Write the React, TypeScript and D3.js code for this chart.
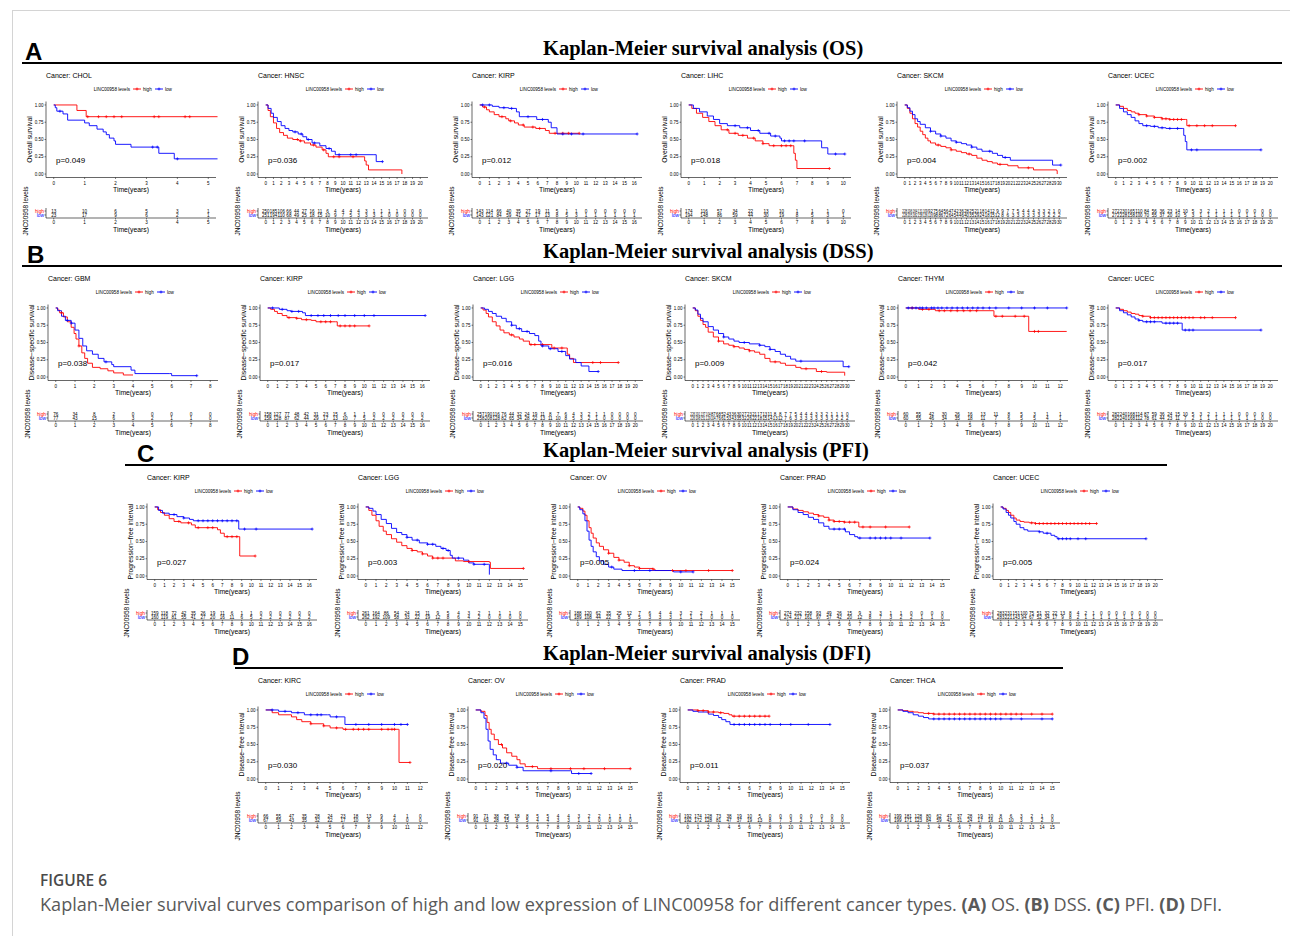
import * as d3 from 'd3';

type Pt = [number, number];

const RED = '#ff0000';
const BLUE = '#0000ff';
const SANS = 'Liberation Sans, Arial, sans-serif';

// ---------- A: OS ----------
const osCHOLhigh: Pt[] = [[0, 1], [0.75, 0.92], [1.05, 0.83], [5.3, 0.83]];
const osCHOLhighCens = [1.1, 1.45, 1.7, 1.95, 2.2, 3.25, 3.4, 4.25, 4.4];
const osCHOLlow: Pt[] = [[0, 1], [0.05, 0.96], [0.1, 0.91], [0.3, 0.87], [0.45, 0.78], [1.0, 0.74], [1.15, 0.7], [1.4, 0.65], [1.6, 0.61], [1.7, 0.57], [1.8, 0.52], [1.95, 0.48], [2.0, 0.43], [2.5, 0.39], [3.4, 0.3], [3.9, 0.22], [5.3, 0.22]];
const osCHOLlowCens = [0.2, 3.2, 3.35, 4.0];
const osCHOLriskHigh = [13, 10, 6, 5, 3, 1];
const osCHOLriskLow = [23, 17, 9, 6, 2, 1];

const osHNSChigh: Pt[] = [[0, 1], [0.3, 0.92], [0.6, 0.83], [1, 0.74], [1.4, 0.66], [1.8, 0.6], [2.3, 0.56], [2.8, 0.52], [3.5, 0.5], [4.3, 0.48], [5, 0.45], [5.8, 0.42], [6.5, 0.39], [7.3, 0.35], [7.8, 0.3], [8.1, 0.25], [12.6, 0.25], [12.8, 0.19], [13, 0.13], [13.3, 0.06], [17.6, 0.06], [17.62, 0]];
const osHNSChighCens = [4.1, 4.5, 6.2, 7.5, 8.8, 9.5, 11.3];
const osHNSClow: Pt[] = [[0, 1], [0.3, 0.95], [0.7, 0.88], [1, 0.82], [1.5, 0.76], [2, 0.7], [2.5, 0.66], [3, 0.63], [3.5, 0.61], [4.2, 0.58], [4.8, 0.54], [5.3, 0.5], [6, 0.45], [7, 0.41], [7.8, 0.37], [8.5, 0.33], [9, 0.28], [14, 0.28], [14.3, 0.18], [15.1, 0.18]];
const osHNSClowCens = [3.8, 4.6, 5.5, 6.3, 8.2, 9.5, 11, 11.7, 15.1];
const osHNSCriskHigh = [250, 185, 106, 66, 44, 27, 16, 11, 6, 4, 4, 4, 4, 3, 1, 1, 1, 1, 0, 0, 0];
const osHNSCriskLow = [251, 194, 110, 68, 49, 25, 18, 15, 10, 9, 7, 5, 3, 3, 3, 1, 0, 0, 0, 0, 0];

const osKIRPhigh: Pt[] = [[0, 1], [0.3, 0.97], [0.7, 0.93], [1, 0.9], [1.5, 0.86], [2, 0.83], [2.7, 0.8], [3, 0.77], [3.6, 0.74], [4, 0.71], [4.6, 0.68], [5.8, 0.66], [6.8, 0.63], [7.2, 0.59], [10.3, 0.59]];
const osKIRPhighCens = [0.5, 2.3, 3.2, 4.5, 5.5, 6.2, 7.8, 8.6, 9.2, 10.3];
const osKIRPlow: Pt[] = [[0, 1], [1.3, 0.98], [2, 0.96], [3, 0.95], [3.8, 0.9], [4.1, 0.83], [5.9, 0.79], [7.1, 0.75], [7.4, 0.67], [8, 0.58], [16.3, 0.58]];
const osKIRPlowCens = [0.3, 1, 2.5, 3.3, 5, 6.5, 8.6, 9.5, 10.7, 16.3];
const osKIRPriskHigh = [143, 114, 66, 40, 35, 27, 19, 11, 5, 1, 1, 0, 0, 0, 0, 0, 0];
const osKIRPriskLow = [143, 121, 84, 59, 41, 27, 17, 13, 8, 5, 3, 1, 1, 1, 1, 1, 1];

const osLIHChigh: Pt[] = [[0, 1], [0.2, 0.95], [0.5, 0.88], [0.9, 0.82], [1.3, 0.76], [1.7, 0.7], [2.1, 0.64], [2.6, 0.59], [3.2, 0.56], [3.8, 0.52], [4.3, 0.48], [4.8, 0.44], [5.2, 0.41], [6.7, 0.41], [6.8, 0.3], [6.9, 0.2], [7.0, 0.08], [9.1, 0.08]];
const osLIHChighCens = [2.5, 3, 3.5, 4.2, 4.8, 5.5, 6, 6.3, 6.6, 9.1];
const osLIHClow: Pt[] = [[0, 1], [0.3, 0.95], [0.7, 0.9], [1.2, 0.84], [1.6, 0.79], [2, 0.73], [2.5, 0.7], [3.3, 0.67], [4, 0.63], [4.6, 0.59], [5.3, 0.55], [5.9, 0.52], [6.0, 0.48], [8.5, 0.48], [8.6, 0.38], [9.0, 0.29], [10.1, 0.29]];
const osLIHClowCens = [3, 3.8, 4.5, 5.2, 5.6, 6.2, 6.5, 6.8, 7.5, 9.5, 10.1];
const osLIHCriskHigh = [174, 116, 57, 34, 22, 13, 10, 1, 1, 1, 0];
const osLIHCriskLow = [194, 148, 86, 59, 44, 30, 19, 8, 5, 3, 1];

const osSKCMhigh: Pt[] = [[0, 1], [0.5, 0.95], [1, 0.88], [1.5, 0.8], [2, 0.73], [2.5, 0.68], [3, 0.62], [3.5, 0.57], [4, 0.52], [4.5, 0.48], [5, 0.45], [6, 0.42], [7, 0.4], [8, 0.38], [9, 0.35], [10, 0.33], [11, 0.31], [12, 0.29], [13, 0.27], [14, 0.23], [15, 0.2], [16, 0.18], [17, 0.16], [18, 0.14], [20, 0.12], [22, 0.09], [25, 0.06], [29.5, 0.05], [29.6, 0]];
const osSKCMhighCens = [6.5, 9, 12.5, 18.5, 24];
const osSKCMlow: Pt[] = [[0, 1], [0.5, 0.96], [1, 0.91], [1.5, 0.86], [2, 0.8], [2.5, 0.76], [3, 0.72], [4, 0.67], [5, 0.62], [6, 0.58], [7, 0.55], [8, 0.52], [9, 0.48], [10, 0.46], [11, 0.44], [12, 0.42], [13, 0.39], [14, 0.36], [15, 0.33], [17, 0.3], [18, 0.27], [19, 0.24], [20.5, 0.2], [28.5, 0.2], [28.7, 0.13], [30.3, 0.13]];
const osSKCMlowCens = [5, 7, 10, 13, 16.5, 19.5, 30.3];
const osSKCMriskHigh = [228, 196, 164, 131, 109, 92, 75, 64, 56, 47, 42, 36, 28, 25, 21, 18, 14, 12, 9, 9, 7, 7, 5, 4, 4, 4, 3, 3, 2, 1, 0];
const osSKCMriskLow = [228, 205, 182, 158, 136, 116, 98, 86, 72, 64, 54, 46, 40, 35, 29, 24, 18, 15, 12, 8, 6, 3, 3, 3, 3, 3, 3, 3, 2, 2, 2];

const osUCEChigh: Pt[] = [[0, 1], [0.5, 0.98], [1, 0.95], [1.5, 0.92], [2, 0.9], [2.5, 0.88], [3, 0.86], [4, 0.84], [5, 0.82], [6, 0.8], [7, 0.79], [9, 0.79], [9.2, 0.7], [15.5, 0.7]];
const osUCEChighCens = [3, 4, 5, 6, 6.5, 7, 7.5, 8, 8.5, 9.5, 10.5, 11.5, 12.5, 15.5];
const osUCEClow: Pt[] = [[0, 1], [0.5, 0.95], [1, 0.9], [1.5, 0.86], [2, 0.82], [2.5, 0.77], [3, 0.73], [3.5, 0.7], [4.5, 0.69], [5.5, 0.67], [6.5, 0.66], [8.6, 0.66], [8.8, 0.56], [9, 0.47], [9.2, 0.35], [18.8, 0.35]];
const osUCEClowCens = [4, 5, 6, 7, 8, 9.8, 10.5, 18.8];
const osUCECriskHigh = [272, 230, 165, 110, 84, 56, 36, 23, 14, 10, 5, 3, 2, 1, 1, 1, 0, 0, 0, 0, 0];
const osUCECriskLow = [272, 228, 158, 100, 70, 55, 37, 20, 10, 5, 3, 1, 1, 1, 1, 1, 1, 1, 1, 0, 0];

// ---------- B: DSS ----------
const dssGBMhigh: Pt[] = [[0, 1], [0.1, 0.97], [0.2, 0.93], [0.4, 0.87], [0.6, 0.8], [0.8, 0.72], [0.95, 0.63], [1.05, 0.55], [1.2, 0.45], [1.35, 0.35], [1.5, 0.27], [1.65, 0.2], [1.9, 0.14], [2.3, 0.12], [2.7, 0.09], [3.0, 0.06], [3.5, 0.03], [4, 0.03]];
const dssGBMhighCens = [0.3, 1.2];
const dssGBMlow: Pt[] = [[0, 1], [0.1, 0.96], [0.3, 0.88], [0.5, 0.82], [0.8, 0.78], [1.0, 0.68], [1.2, 0.56], [1.4, 0.45], [1.6, 0.38], [1.9, 0.33], [2.2, 0.27], [2.5, 0.22], [2.9, 0.18], [3.0, 0.15], [3.9, 0.1], [4.1, 0.05], [5.9, 0.05], [6.0, 0.02], [7.3, 0.02]];
const dssGBMlowCens = [0.6, 0.8, 2.6, 7.3];
const dssGBMriskHigh = [76, 34, 8, 2, 0, 0, 0, 0, 0];
const dssGBMriskLow = [77, 43, 15, 6, 3, 2, 1, 1, 0];

const dssKIRPhigh: Pt[] = [[0, 1], [0.3, 0.98], [0.7, 0.95], [1, 0.92], [1.5, 0.89], [2, 0.86], [3, 0.85], [3.5, 0.83], [4.5, 0.82], [5, 0.8], [7, 0.8], [7.2, 0.74], [10.5, 0.74]];
const dssKIRPhighCens = [2.2, 3, 4, 5.5, 6, 6.5, 7.5, 8, 8.5, 9, 10.5];
const dssKIRPlow: Pt[] = [[0, 1], [1.2, 0.98], [2, 0.96], [2.4, 0.95], [3.6, 0.93], [3.9, 0.89], [16.3, 0.89]];
const dssKIRPlowCens = [0.5, 1.5, 2.5, 3.2, 4.5, 5.2, 5.8, 6.5, 7.3, 8, 9, 10, 11, 16.3];
const dssKIRPriskHigh = [158, 127, 77, 48, 42, 31, 23, 15, 6, 1, 1, 0, 0, 0, 0, 0, 0];
const dssKIRPriskLow = [158, 128, 87, 62, 44, 29, 17, 13, 10, 7, 5, 2, 2, 2, 2, 2, 2];

const dssLGGhigh: Pt[] = [[0, 1], [0.3, 0.97], [0.7, 0.92], [1, 0.87], [1.5, 0.8], [2, 0.74], [2.5, 0.68], [3, 0.64], [3.7, 0.61], [4.3, 0.58], [5, 0.55], [5.5, 0.52], [6.3, 0.47], [9, 0.47], [9.2, 0.42], [11, 0.42], [11.2, 0.33], [11.5, 0.27], [12, 0.21], [17.8, 0.21]];
const dssLGGhighCens = [4, 6.5, 7, 8, 9.5, 10.5, 14.5, 15.5, 17.8];
const dssLGGlow: Pt[] = [[0, 1], [0.5, 0.98], [1, 0.95], [1.5, 0.92], [2, 0.88], [2.7, 0.85], [3.3, 0.8], [4, 0.75], [4.6, 0.7], [5.3, 0.66], [6.3, 0.63], [7, 0.6], [7.5, 0.52], [7.8, 0.45], [8.8, 0.41], [10, 0.37], [11, 0.31], [11.5, 0.26], [12.3, 0.21], [13, 0.16], [14, 0.08], [15.2, 0.08]];
const dssLGGlowCens = [4, 5, 6, 8, 9, 10.5, 15.2];
const dssLGGriskHigh = [257, 190, 116, 76, 44, 32, 24, 19, 11, 8, 7, 6, 4, 3, 2, 1, 1, 0, 0, 0, 0];
const dssLGGriskLow = [258, 208, 128, 82, 65, 34, 28, 22, 13, 11, 10, 8, 5, 3, 2, 1, 0, 0, 0, 0, 0];

const dssSKCMhigh: Pt[] = [[0, 1], [0.5, 0.96], [1, 0.88], [1.5, 0.82], [2, 0.76], [2.5, 0.72], [3, 0.65], [4, 0.58], [5, 0.52], [6, 0.48], [7, 0.46], [8, 0.44], [9, 0.42], [10, 0.4], [11, 0.38], [12, 0.36], [13, 0.33], [14, 0.27], [15, 0.22], [17, 0.2], [18, 0.17], [20, 0.14], [21, 0.12], [24, 0.08], [26, 0.07], [29.4, 0.07], [29.5, 0.02]];
const dssSKCMhighCens = [5, 8, 11, 16, 22, 25];
const dssSKCMlow: Pt[] = [[0, 1], [0.5, 0.97], [1, 0.91], [1.5, 0.85], [2, 0.8], [3, 0.73], [4, 0.68], [5, 0.63], [6, 0.58], [7, 0.55], [8, 0.52], [9, 0.5], [11, 0.48], [13, 0.46], [14, 0.44], [15, 0.4], [16, 0.37], [17, 0.33], [18, 0.3], [19, 0.26], [20, 0.23], [29, 0.23], [29.2, 0.15], [30.3, 0.15]];
const dssSKCMlowCens = [6, 10, 13, 15, 21, 30.3];
const dssSKCMriskHigh = [226, 191, 137, 104, 87, 68, 52, 43, 36, 30, 27, 23, 21, 17, 13, 11, 8, 8, 7, 7, 5, 4, 4, 4, 3, 3, 2, 1, 1, 1, 0];
const dssSKCMriskLow = [226, 198, 151, 129, 104, 76, 61, 53, 43, 35, 32, 26, 22, 18, 15, 14, 13, 12, 7, 6, 3, 3, 3, 3, 3, 3, 3, 3, 2, 2, 2];

const dssTHYMhigh: Pt[] = [[0, 1], [1.0, 0.98], [2.3, 0.96], [6.8, 0.96], [6.85, 0.88], [9.5, 0.88], [9.55, 0.66], [12.5, 0.66]];
const dssTHYMhighCens = [0.5, 1.3, 1.8, 2.6, 3, 3.5, 4, 4.5, 5, 5.5, 7, 7.5, 8.5, 9.2, 10, 10.3];
const dssTHYMlow: Pt[] = [[0, 1], [12.5, 1]];
const dssTHYMlowCens = [0.2, 0.5, 0.8, 1.1, 1.3, 1.6, 2, 2.2, 2.5, 2.8, 3.2, 3.6, 4, 4.4, 4.8, 5.2, 5.6, 6, 6.5, 7, 8, 9, 10, 11, 12.5];
const dssTHYMriskHigh = [60, 55, 42, 30, 26, 16, 13, 11, 8, 5, 3, 1, 1];
const dssTHYMriskLow = [60, 55, 46, 34, 35, 18, 11, 7, 6, 5, 5, 4, 1];

const dssUCEChigh: Pt[] = [[0, 1], [0.5, 0.98], [1, 0.96], [1.5, 0.94], [2, 0.92], [2.5, 0.91], [3, 0.89], [3.5, 0.88], [4.5, 0.86], [15.5, 0.86]];
const dssUCEChighCens = [3.5, 4.5, 5, 5.5, 6, 6.5, 7, 7.5, 8, 8.5, 9, 9.5, 10, 11, 11.5, 12.5, 15.5];
const dssUCEClow: Pt[] = [[0, 1], [0.5, 0.96], [1, 0.93], [1.5, 0.9], [2, 0.87], [2.5, 0.84], [3, 0.82], [3.5, 0.8], [5.5, 0.8], [6, 0.78], [8.5, 0.78], [8.6, 0.68], [18.8, 0.68]];
const dssUCEClowCens = [3, 4, 4.5, 5, 6.5, 7, 7.5, 8, 9, 9.5, 10, 18.8];
const dssUCECriskHigh = [282, 240, 168, 114, 87, 59, 36, 24, 15, 10, 5, 3, 2, 1, 1, 1, 0, 0, 0, 0, 0];
const dssUCECriskLow = [282, 240, 168, 112, 78, 61, 44, 23, 11, 7, 2, 1, 1, 1, 1, 1, 1, 1, 1, 0, 0];

// ---------- C: PFI ----------
const pfiKIRPhigh: Pt[] = [[0, 1], [0.3, 0.96], [0.6, 0.92], [1, 0.88], [1.5, 0.83], [2, 0.79], [2.7, 0.77], [3.8, 0.74], [4.2, 0.7], [6.5, 0.67], [6.8, 0.62], [7.2, 0.57], [8.7, 0.57], [8.8, 0.29], [10.4, 0.29]];
const pfiKIRPhighCens = [2.5, 3.5, 4.5, 5.5, 6, 7.5, 8, 8.5, 10.4];
const pfiKIRPlow: Pt[] = [[0, 1], [0.4, 0.95], [0.8, 0.91], [1.5, 0.89], [2.3, 0.86], [3, 0.84], [3.6, 0.82], [4, 0.8], [8.6, 0.8], [8.7, 0.68], [16.3, 0.68]];
const pfiKIRPlowCens = [2, 3, 4.5, 5, 5.5, 6, 6.5, 7, 7.5, 8, 8.5, 9.3, 10.5, 16.3];
const pfiKIRPriskHigh = [159, 118, 72, 42, 35, 26, 19, 11, 6, 1, 1, 0, 0, 0, 0, 0, 0];
const pfiKIRPriskLow = [160, 119, 81, 55, 41, 27, 20, 16, 11, 6, 5, 2, 2, 2, 2, 2, 2];

const pfiLGGhigh: Pt[] = [[0, 1], [0.3, 0.95], [0.6, 0.88], [1, 0.8], [1.3, 0.72], [1.7, 0.65], [2, 0.6], [2.5, 0.54], [3, 0.49], [3.5, 0.44], [4, 0.4], [4.5, 0.37], [5, 0.35], [5.5, 0.32], [6, 0.29], [6.5, 0.26], [8.5, 0.26], [8.7, 0.22], [9.5, 0.21], [12, 0.2], [12.1, 0.11], [15.3, 0.11]];
const pfiLGGhighCens = [4.5, 5.5, 6.5, 7, 7.5, 10, 15.3];
const pfiLGGlow: Pt[] = [[0, 1], [0.3, 0.98], [0.7, 0.94], [1, 0.89], [1.5, 0.82], [2, 0.76], [2.5, 0.69], [3, 0.63], [3.5, 0.6], [4, 0.56], [4.5, 0.52], [5.2, 0.48], [6, 0.46], [6.8, 0.43], [7.3, 0.4], [7.8, 0.37], [8.2, 0.3], [8.4, 0.26], [9.5, 0.23], [10, 0.19], [10.5, 0.17], [11.9, 0.17], [12, 0.02]];
const pfiLGGlowCens = [4, 5, 6, 6.5, 7.5, 8, 9, 10.5, 11.5];
const pfiLGGriskHigh = [261, 164, 86, 54, 24, 15, 11, 9, 5, 4, 3, 2, 1, 1, 1, 0];
const pfiLGGriskLow = [262, 192, 109, 58, 33, 22, 19, 12, 8, 6, 4, 2, 0, 0, 0, 0];

const pfiOVhigh: Pt[] = [[0, 1], [0.2, 0.98], [0.5, 0.94], [0.7, 0.88], [0.9, 0.8], [1.1, 0.7], [1.3, 0.62], [1.5, 0.55], [1.8, 0.48], [2.1, 0.43], [2.5, 0.38], [3, 0.33], [3.5, 0.27], [4, 0.23], [4.5, 0.2], [5, 0.15], [5.5, 0.13], [6, 0.11], [7.3, 0.1], [7.5, 0.08], [15, 0.08]];
const pfiOVhighCens = [3, 4, 5, 6, 7.3, 9.2, 10.5, 12.7, 15];
const pfiOVlow: Pt[] = [[0, 1], [0.2, 0.96], [0.5, 0.9], [0.7, 0.8], [0.9, 0.65], [1.1, 0.52], [1.3, 0.43], [1.5, 0.35], [1.8, 0.28], [2.1, 0.22], [2.5, 0.17], [3, 0.13], [3.5, 0.1], [4.3, 0.08], [9.2, 0.08], [9.3, 0.06], [11.2, 0.06]];
const pfiOVlowCens = [3.3, 5.5, 7, 10, 11.2];
const pfiOVriskHigh = [188, 120, 62, 35, 25, 12, 7, 6, 4, 4, 3, 2, 2, 1, 1, 1];
const pfiOVriskLow = [189, 108, 44, 22, 8, 5, 5, 3, 3, 3, 1, 1, 1, 0, 0, 0];

const pfiPRADhigh: Pt[] = [[0, 1], [0.5, 0.97], [1, 0.95], [1.5, 0.93], [2, 0.91], [2.5, 0.89], [3, 0.87], [3.5, 0.85], [4, 0.81], [4.5, 0.79], [5.5, 0.78], [6.8, 0.78], [6.9, 0.71], [11.8, 0.71]];
const pfiPRADhighCens = [3, 4, 4.5, 5, 5.5, 6, 6.5, 7.3, 8, 9.5, 11.8];
const pfiPRADlow: Pt[] = [[0, 1], [0.5, 0.96], [1, 0.92], [1.5, 0.89], [2, 0.85], [2.5, 0.82], [3, 0.77], [3.5, 0.72], [4, 0.68], [5.2, 0.68], [5.6, 0.64], [6, 0.6], [6.5, 0.57], [6.8, 0.55], [13.8, 0.55]];
const pfiPRADlowCens = [4.5, 5, 5.5, 7, 8, 8.5, 9, 9.5, 10, 11, 13.8];
const pfiPRADriskHigh = [274, 232, 158, 93, 49, 26, 15, 9, 3, 3, 1, 1, 0, 0, 0, 0];
const pfiPRADriskLow = [274, 217, 161, 97, 57, 42, 20, 12, 8, 7, 3, 2, 2, 1, 1, 0];

const pfiUCEChigh: Pt[] = [[0, 1], [0.3, 0.98], [0.7, 0.95], [1, 0.92], [1.3, 0.88], [1.7, 0.84], [2, 0.81], [2.5, 0.79], [3, 0.78], [3.7, 0.77], [4.5, 0.76], [12.4, 0.76]];
const pfiUCEChighCens = [4, 4.5, 5, 5.5, 6, 6.5, 7, 7.5, 8, 8.5, 9, 9.5, 10, 10.5, 11, 11.5, 12.4];
const pfiUCEClow: Pt[] = [[0, 1], [0.3, 0.97], [0.7, 0.92], [1, 0.88], [1.3, 0.84], [1.7, 0.79], [2, 0.75], [2.5, 0.7], [3, 0.67], [3.5, 0.65], [5, 0.64], [5.5, 0.62], [6.5, 0.59], [7, 0.57], [7.3, 0.54], [18.8, 0.54]];
const pfiUCEClowCens = [5, 6, 7.5, 8, 8.5, 9, 10, 11, 18.8];
const pfiUCECriskHigh = [283, 231, 151, 100, 75, 51, 32, 22, 13, 8, 4, 2, 1, 0, 0, 0, 0, 0, 0, 0, 0];
const pfiUCECriskLow = [283, 221, 143, 94, 67, 52, 34, 17, 9, 8, 2, 1, 1, 1, 1, 1, 1, 1, 1, 0, 0];

// ---------- D: DFI ----------
const dfiKIRChigh: Pt[] = [[0, 1], [0.5, 0.96], [1, 0.93], [2, 0.9], [2.4, 0.86], [2.8, 0.83], [3.5, 0.8], [4.5, 0.77], [5, 0.74], [6, 0.72], [10.3, 0.72], [10.35, 0.24], [11.2, 0.24]];
const dfiKIRChighCens = [3.5, 4.5, 5.5, 6.2, 6.8, 7.2, 7.6, 8, 9, 9.5, 9.8, 10, 11.2];
const dfiKIRClow: Pt[] = [[0, 1], [1, 0.98], [2, 0.96], [3, 0.93], [4.8, 0.93], [5, 0.9], [6.1, 0.9], [6.15, 0.79], [11, 0.79]];
const dfiKIRClowCens = [0.5, 1.5, 2.5, 3.5, 4, 4.3, 5.5, 7, 8, 9, 10, 10.5, 11];
const dfiKIRCriskHigh = [66, 55, 47, 35, 28, 24, 23, 18, 13, 9, 4, 1, 0];
const dfiKIRCriskLow = [67, 59, 43, 35, 32, 22, 17, 10, 9, 9, 6, 0, 0];

const dfiOVhigh: Pt[] = [[0, 1], [0.5, 0.98], [0.9, 0.92], [1.1, 0.82], [1.3, 0.72], [1.5, 0.65], [1.8, 0.57], [2.2, 0.5], [2.6, 0.45], [3, 0.38], [3.5, 0.33], [4, 0.28], [4.3, 0.22], [4.8, 0.18], [6, 0.15], [15, 0.15]];
const dfiOVhighCens = [2.5, 5.5, 7.3, 9.2, 10.5, 12.5, 15];
const dfiOVlow: Pt[] = [[0, 1], [0.5, 0.96], [0.8, 0.88], [1, 0.72], [1.2, 0.55], [1.4, 0.43], [1.7, 0.35], [2, 0.28], [2.4, 0.23], [3.2, 0.2], [4, 0.17], [4.6, 0.12], [9.2, 0.12], [9.3, 0.08], [11.2, 0.08]];
const dfiOVlowCens = [3, 4, 7.3, 10, 11.2];
const dfiOVriskHigh = [91, 71, 38, 25, 18, 8, 5, 5, 4, 4, 3, 2, 2, 1, 1, 1];
const dfiOVriskLow = [91, 63, 28, 15, 8, 5, 4, 4, 3, 3, 1, 1, 0, 0, 0, 0];

const dfiPRADhigh: Pt[] = [[0, 1], [1, 0.99], [2, 0.97], [3, 0.96], [3.5, 0.95], [4, 0.93], [4.3, 0.91], [7.9, 0.91]];
const dfiPRADhighCens = [1, 1.5, 2, 2.5, 3.2, 4.5, 5, 5.5, 6, 6.5, 7, 7.5, 7.9];
const dfiPRADlow: Pt[] = [[0, 1], [0.5, 0.98], [1, 0.97], [2, 0.94], [2.5, 0.92], [3, 0.89], [3.3, 0.86], [3.7, 0.83], [4.1, 0.79], [13.8, 0.79]];
const dfiPRADlowCens = [4.5, 5, 5.5, 6, 6.5, 7, 7.5, 8, 9, 10, 11.7, 13.8];
const dfiPRADriskHigh = [192, 174, 128, 73, 38, 19, 10, 5, 0, 0, 0, 0, 0, 0, 0, 0];
const dfiPRADriskLow = [192, 172, 128, 81, 47, 37, 19, 13, 8, 7, 3, 2, 1, 1, 0, 0];

const dfiTHCAhigh: Pt[] = [[0, 1], [0.5, 0.99], [1, 0.98], [1.5, 0.97], [2, 0.96], [2.5, 0.95], [3.5, 0.94], [15, 0.94]];
const dfiTHCAhighCens = [3, 3.5, 4, 4.5, 5, 5.5, 6, 6.5, 7, 7.5, 8, 8.5, 9, 9.5, 10, 10.5, 11, 11.5, 12, 13, 14, 15];
const dfiTHCAlow: Pt[] = [[0, 1], [0.5, 0.98], [1, 0.96], [1.5, 0.93], [2, 0.91], [2.5, 0.89], [3, 0.87], [15, 0.87]];
const dfiTHCAlowCens = [3.5, 4, 4.5, 5, 5.5, 6, 6.5, 7, 7.5, 8, 8.5, 9, 9.5, 10, 11, 12, 14, 15];
const dfiTHCAriskHigh = [199, 181, 128, 80, 62, 47, 37, 28, 19, 10, 8, 6, 3, 2, 1, 0];
const dfiTHCAriskLow = [199, 171, 123, 84, 59, 43, 31, 24, 17, 16, 11, 10, 3, 3, 2, 0];

type PanelData = {
  cancer: string; p: string; tmax: number;
  high: Pt[]; highCens: number[]; low: Pt[]; lowCens: number[];
  riskHigh: number[]; riskLow: number[];
};

const mk = (cancer: string, p: string, tmax: number, high: Pt[], highCens: number[], low: Pt[], lowCens: number[], riskHigh: number[], riskLow: number[]): PanelData =>
  ({ cancer, p, tmax, high, highCens, low, lowCens, riskHigh, riskLow });

const rows = [
  {
    letter: 'A', tag: 'OS', lineY: 63, lineX: [22, 1282], letterX: 25, ylab: 'Overall survival',
    axes: [46, 258, 472, 681, 897, 1108],
    panels: [
      mk('CHOL', '0.049', 5, osCHOLhigh, osCHOLhighCens, osCHOLlow, osCHOLlowCens, osCHOLriskHigh, osCHOLriskLow),
      mk('HNSC', '0.036', 20, osHNSChigh, osHNSChighCens, osHNSClow, osHNSClowCens, osHNSCriskHigh, osHNSCriskLow),
      mk('KIRP', '0.012', 16, osKIRPhigh, osKIRPhighCens, osKIRPlow, osKIRPlowCens, osKIRPriskHigh, osKIRPriskLow),
      mk('LIHC', '0.018', 10, osLIHChigh, osLIHChighCens, osLIHClow, osLIHClowCens, osLIHCriskHigh, osLIHCriskLow),
      mk('SKCM', '0.004', 30, osSKCMhigh, osSKCMhighCens, osSKCMlow, osSKCMlowCens, osSKCMriskHigh, osSKCMriskLow),
      mk('UCEC', '0.002', 20, osUCEChigh, osUCEChighCens, osUCEClow, osUCEClowCens, osUCECriskHigh, osUCECriskLow),
    ],
  },
  {
    letter: 'B', tag: 'DSS', lineY: 266, lineX: [22, 1282], letterX: 27, ylab: 'Disease\u2212specific survival',
    axes: [48, 260, 473, 685, 898, 1108],
    panels: [
      mk('GBM', '0.038', 8, dssGBMhigh, dssGBMhighCens, dssGBMlow, dssGBMlowCens, dssGBMriskHigh, dssGBMriskLow),
      mk('KIRP', '0.017', 16, dssKIRPhigh, dssKIRPhighCens, dssKIRPlow, dssKIRPlowCens, dssKIRPriskHigh, dssKIRPriskLow),
      mk('LGG', '0.016', 20, dssLGGhigh, dssLGGhighCens, dssLGGlow, dssLGGlowCens, dssLGGriskHigh, dssLGGriskLow),
      mk('SKCM', '0.009', 30, dssSKCMhigh, dssSKCMhighCens, dssSKCMlow, dssSKCMlowCens, dssSKCMriskHigh, dssSKCMriskLow),
      mk('THYM', '0.042', 12, dssTHYMhigh, dssTHYMhighCens, dssTHYMlow, dssTHYMlowCens, dssTHYMriskHigh, dssTHYMriskLow),
      mk('UCEC', '0.017', 20, dssUCEChigh, dssUCEChighCens, dssUCEClow, dssUCEClowCens, dssUCECriskHigh, dssUCECriskLow),
    ],
  },
  {
    letter: 'C', tag: 'PFI', lineY: 465, lineX: [125, 1167], letterX: 137, ylab: 'Progression\u2212free interval',
    axes: [147, 358, 570, 780, 993],
    panels: [
      mk('KIRP', '0.027', 16, pfiKIRPhigh, pfiKIRPhighCens, pfiKIRPlow, pfiKIRPlowCens, pfiKIRPriskHigh, pfiKIRPriskLow),
      mk('LGG', '0.003', 15, pfiLGGhigh, pfiLGGhighCens, pfiLGGlow, pfiLGGlowCens, pfiLGGriskHigh, pfiLGGriskLow),
      mk('OV', '0.005', 15, pfiOVhigh, pfiOVhighCens, pfiOVlow, pfiOVlowCens, pfiOVriskHigh, pfiOVriskLow),
      mk('PRAD', '0.024', 15, pfiPRADhigh, pfiPRADhighCens, pfiPRADlow, pfiPRADlowCens, pfiPRADriskHigh, pfiPRADriskLow),
      mk('UCEC', '0.005', 20, pfiUCEChigh, pfiUCEChighCens, pfiUCEClow, pfiUCEClowCens, pfiUCECriskHigh, pfiUCECriskLow),
    ],
  },
  {
    letter: 'D', tag: 'DFI', lineY: 668, lineX: [235, 1063], letterX: 232, ylab: 'Disease\u2212free interval',
    axes: [258, 468, 680, 890],
    panels: [
      mk('KIRC', '0.030', 12, dfiKIRChigh, dfiKIRChighCens, dfiKIRClow, dfiKIRClowCens, dfiKIRCriskHigh, dfiKIRCriskLow),
      mk('OV', '0.020', 15, dfiOVhigh, dfiOVhighCens, dfiOVlow, dfiOVlowCens, dfiOVriskHigh, dfiOVriskLow),
      mk('PRAD', '0.011', 15, dfiPRADhigh, dfiPRADhighCens, dfiPRADlow, dfiPRADlowCens, dfiPRADriskHigh, dfiPRADriskLow),
      mk('THCA', '0.037', 15, dfiTHCAhigh, dfiTHCAhighCens, dfiTHCAlow, dfiTHCAlowCens, dfiTHCAriskHigh, dfiTHCAriskLow),
    ],
  },
];

const yTicks = [0, 0.25, 0.5, 0.75, 1];
const fmt = d3.format('.2f');
const PW = 170;

function survAt(steps: Pt[], t: number) {
  let s = steps[0][1];
  for (const [ti, si] of steps) {
    if (ti <= t) s = si;
    else break;
  }
  return s;
}

function Plus({ x, y, color, r = 1.5 }: { x: number; y: number; color: string; r?: number }) {
  return <path d={`M${x - r},${y}h${2 * r}M${x},${y - r}v${2 * r}`} stroke={color} strokeWidth={0.7} fill="none" />;
}

// a number squeezed to fit its tick slot when the slot is narrow (e.g. 0..30 years)
function Num({ x, y, v, fs, slot }: { x: number; y: number; v: number | string; fs: number; slot: number }) {
  const s = String(v);
  const w = s.length * 0.556 * fs;
  const fit = w > slot - 0.4;
  return (
    <text x={x} y={y} fontSize={fs} textAnchor="middle"
      textLength={fit ? slot - 0.4 : undefined} lengthAdjust={fit ? 'spacingAndGlyphs' : undefined}>
      {s}
    </text>
  );
}

function Panel({ d, ax, L, ylab }: { d: PanelData; ax: number; L: number; ylab: string }) {
  const T = d.tmax;
  const x = d3.scaleLinear().domain([-0.05 * T, 1.05 * T]).range([ax, ax + PW]);
  const y = d3.scaleLinear().domain([-0.05, 1.05]).range([L + 114.5, L + 38.5]);
  const line = d3.line<Pt>().x((p) => x(p[0])).y((p) => y(p[1])).curve(d3.curveStepAfter);
  const ticks = d3.range(0, T + 1);
  const slot = x(1) - x(0);
  const bottom = L + 114.5;
  const rBottom = L + 155;
  const legX = ax + 84;
  const legY = L + 26;
  return (
    <g fontFamily={SANS}>
      <text x={ax} y={L + 14.5} fontSize={7}>{`Cancer: ${d.cancer}`}</text>
      {/* legend */}
      <g fontSize={4.6}>
        <text x={legX} y={legY + 1.6} textAnchor="end">LINC00958 levels</text>
        <line x1={legX + 3} x2={legX + 11} y1={legY} y2={legY} stroke={RED} strokeWidth={0.9} />
        <Plus x={legX + 7} y={legY} color={RED} />
        <text x={legX + 13} y={legY + 1.6}>high</text>
        <line x1={legX + 25} x2={legX + 33} y1={legY} y2={legY} stroke={BLUE} strokeWidth={0.9} />
        <Plus x={legX + 29} y={legY} color={BLUE} />
        <text x={legX + 35} y={legY + 1.6}>low</text>
      </g>
      {/* axes */}
      <line x1={ax} x2={ax} y1={L + 38.5} y2={bottom} stroke="#000" strokeWidth={0.6} />
      <line x1={ax} x2={ax + PW} y1={bottom} y2={bottom} stroke="#000" strokeWidth={0.6} />
      {yTicks.map((t) => (
        <g key={t}>
          <line x1={ax - 1.5} x2={ax} y1={y(t)} y2={y(t)} stroke="#000" strokeWidth={0.5} />
          <text x={ax - 2.5} y={y(t) + 1.6} fontSize={4.5} textAnchor="end">{fmt(t)}</text>
        </g>
      ))}
      {ticks.map((t) => (
        <g key={t}>
          <line x1={x(t)} x2={x(t)} y1={bottom} y2={bottom + 1.5} stroke="#000" strokeWidth={0.5} />
          <Num x={x(t)} y={L + 121.5} v={t} fs={4.5} slot={slot} />
        </g>
      ))}
      <text x={x(T / 2)} y={L + 128.5} fontSize={6.8} textAnchor="middle">Time(years)</text>
      <text transform={`translate(${ax - 14},${L + 76.5}) rotate(-90)`} fontSize={6.8} textAnchor="middle">{ylab}</text>
      {/* curves */}
      <path d={line(d.high) ?? ''} fill="none" stroke={RED} strokeWidth={0.9} />
      <path d={line(d.low) ?? ''} fill="none" stroke={BLUE} strokeWidth={0.9} />
      {d.highCens.map((t, i) => <Plus key={`h${i}`} x={x(t)} y={y(survAt(d.high, t))} color={RED} />)}
      {d.lowCens.map((t, i) => <Plus key={`l${i}`} x={x(t)} y={y(survAt(d.low, t))} color={BLUE} />)}
      <text x={ax + 10} y={y(0.2) + 2.8} fontSize={8}>{`p=${d.p}`}</text>
      {/* risk table */}
      <text transform={`translate(${ax - 18},${L + 148}) rotate(-90)`} fontSize={6.5} textAnchor="middle">JNC00958 levels</text>
      <line x1={ax} x2={ax} y1={L + 145} y2={rBottom} stroke="#000" strokeWidth={0.6} />
      <line x1={ax} x2={ax + PW} y1={rBottom} y2={rBottom} stroke="#000" strokeWidth={0.6} />
      <line x1={ax - 1.5} x2={ax} y1={L + 148} y2={L + 148} stroke="#000" strokeWidth={0.5} />
      <line x1={ax - 1.5} x2={ax} y1={L + 152} y2={L + 152} stroke="#000" strokeWidth={0.5} />
      <text x={ax - 2} y={L + 149.6} fontSize={4.8} textAnchor="end" fill={RED}>high</text>
      <text x={ax - 2} y={L + 153.6} fontSize={4.8} textAnchor="end" fill={BLUE}>low</text>
      {ticks.map((t, i) => (
        <g key={`r${t}`}>
          <Num x={x(t)} y={L + 149.6} v={d.riskHigh[i]} fs={4.6} slot={slot} />
          <Num x={x(t)} y={L + 153.6} v={d.riskLow[i]} fs={4.6} slot={slot} />
          <line x1={x(t)} x2={x(t)} y1={rBottom} y2={rBottom + 1.5} stroke="#000" strokeWidth={0.5} />
          <Num x={x(t)} y={L + 160.5} v={t} fs={4.6} slot={slot} />
        </g>
      ))}
      <text x={x(T / 2)} y={L + 168.5} fontSize={6.8} textAnchor="middle">Time(years)</text>
    </g>
  );
}

export default function App() {
  return (
    <svg width={1290} height={936} style={{ position: 'absolute', left: 0, top: 0, background: '#fff' }}>
      <line x1={12} x2={1290} y1={10.5} y2={10.5} stroke="#d4d4d4" strokeWidth={1} />
      <line x1={12.5} x2={12.5} y1={10} y2={936} stroke="#d4d4d4" strokeWidth={1} />
      {rows.map((r) => (
        <g key={r.letter}>
          <text x={r.letterX} y={r.lineY - 3} fontFamily={SANS} fontWeight="bold" fontSize={24}>{r.letter}</text>
          <text x={543} y={r.lineY - 8} fontFamily="Liberation Serif, Times New Roman, serif" fontWeight="bold" fontSize={20.5}>
            {`Kaplan-Meier survival analysis (${r.tag})`}
          </text>
          <line x1={r.lineX[0]} x2={r.lineX[1]} y1={r.lineY} y2={r.lineY} stroke="#000" strokeWidth={2} />
          {r.panels.map((p, i) => (
            <Panel key={p.cancer + i} d={p} ax={r.axes[i]} L={r.lineY} ylab={r.ylab} />
          ))}
        </g>
      ))}
      <text x={40} y={886} fontFamily="Open Sans, sans-serif" fontSize={16.5} fontWeight={600} fill="#4a4a4a" textLength={67} lengthAdjust="spacingAndGlyphs">FIGURE 6</text>
      <text x={40} y={911} fontFamily="Open Sans, sans-serif" fontSize={17.5} fill="#595959" textLength={1182} lengthAdjust="spacingAndGlyphs">
        Kaplan-Meier survival curves comparison of high and low expression of LINC00958 for different cancer types.{' '}
        <tspan fontWeight={700}>(A)</tspan> OS. <tspan fontWeight={700}>(B)</tspan> DSS.{' '}
        <tspan fontWeight={700}>(C)</tspan> PFI. <tspan fontWeight={700}>(D)</tspan> DFI.
      </text>
    </svg>
  );
}
